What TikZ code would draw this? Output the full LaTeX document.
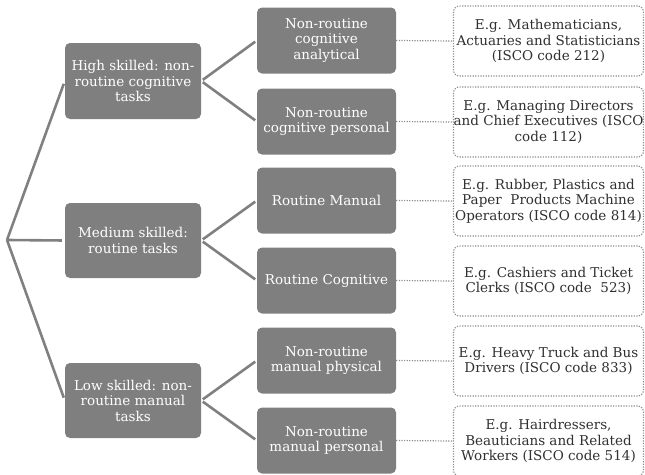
\documentclass[tikz,border=0pt]{standalone}
\usepackage{fontspec}
\setmainfont{DejaVu Serif}
\definecolor{boxgray}{HTML}{7F7F7F}
\definecolor{linegray}{HTML}{808080}
\definecolor{dotgray}{HTML}{8C8C8C}
\definecolor{extext}{HTML}{303030}
\begin{document}
\begin{tikzpicture}[x=1pt,y=-1pt,
  txt/.style={font=\fontsize{13.5}{15.5}\selectfont, align=center, inner sep=0pt},
  skillbox/.style={txt, fill=boxgray, text=white, rounded corners=5pt, minimum width=136pt, minimum height=76pt},
  taskbox/.style={txt, fill=boxgray, text=white, rounded corners=5pt, minimum width=139pt, minimum height=66pt},
  exbox/.style={txt, draw=dotgray, dash pattern=on 1.2pt off 1.4pt, line width=1.2pt, fill=white, text=extext, rounded corners=6pt, minimum width=190pt, minimum height=70pt},
  branch/.style={draw=linegray, line width=2.6pt},
  dotlink/.style={draw=dotgray, dash pattern=on 1.2pt off 1.4pt, line width=1.2pt}]
\useasboundingbox (0,0) rectangle (645,474);

\coordinate (root) at (7,240);

\node[skillbox] (high) at (133,81) {High skilled: non-\\routine cognitive\\tasks};
\node[skillbox, minimum height=75pt] (med) at (133,240.5) {Medium skilled:\\routine tasks};
\node[skillbox, minimum height=75pt] (low) at (133,400.5) {Low skilled: non-\\routine manual\\tasks};

\node[taskbox] (t1) at (326.5,40.5) {Non-routine\\cognitive\\analytical};
\node[taskbox] (t2) at (326.5,121.5) {Non-routine\\cognitive personal};
\node[taskbox] (t3) at (326.5,200.5) {Routine Manual};
\node[taskbox] (t4) at (326.5,280.5) {Routine Cognitive};
\node[taskbox] (t5) at (326.5,360.5) {Non-routine\\manual physical};
\node[taskbox] (t6) at (326.5,440.5) {Non-routine\\manual personal};

\node[exbox] (e1) at (548.5,41) {E.g. Mathematicians,\\Actuaries and Statisticians\\(ISCO code 212)};
\node[exbox] (e2) at (548.5,122) {E.g. Managing Directors\\and Chief Executives (ISCO\\code 112)};
\node[exbox] (e3) at (548.5,201) {E.g. Rubber, Plastics and\\Paper\ \ Products Machine\\Operators (ISCO code 814)};
\node[exbox] (e4) at (548.5,281) {E.g. Cashiers and Ticket\\Clerks (ISCO code\ \ 523)};
\node[exbox] (e5) at (548.5,361) {E.g. Heavy Truck and Bus\\Drivers (ISCO code 833)};
\node[exbox] (e6) at (548.5,441) {E.g. Hairdressers,\\Beauticians and Related\\Workers (ISCO code 514)};

\begin{scope}[shorten >=3pt]
\draw[branch] (root) -- (high.west);
\draw[branch] (root) -- (med.west);
\draw[branch] (root) -- (low.west);
\end{scope}
\begin{scope}[shorten <=2pt, shorten >=2pt]
\draw[branch] (high.east) -- (t1.west);
\draw[branch] (high.east) -- (t2.west);
\draw[branch] (med.east) -- (t3.west);
\draw[branch] (med.east) -- (t4.west);
\draw[branch] (low.east) -- (t5.west);
\draw[branch] (low.east) -- (t6.west);
\end{scope}

\foreach \i in {1,...,6} {\draw[dotlink] (t\i.east) -- (e\i.west);}
\end{tikzpicture}
\end{document}
